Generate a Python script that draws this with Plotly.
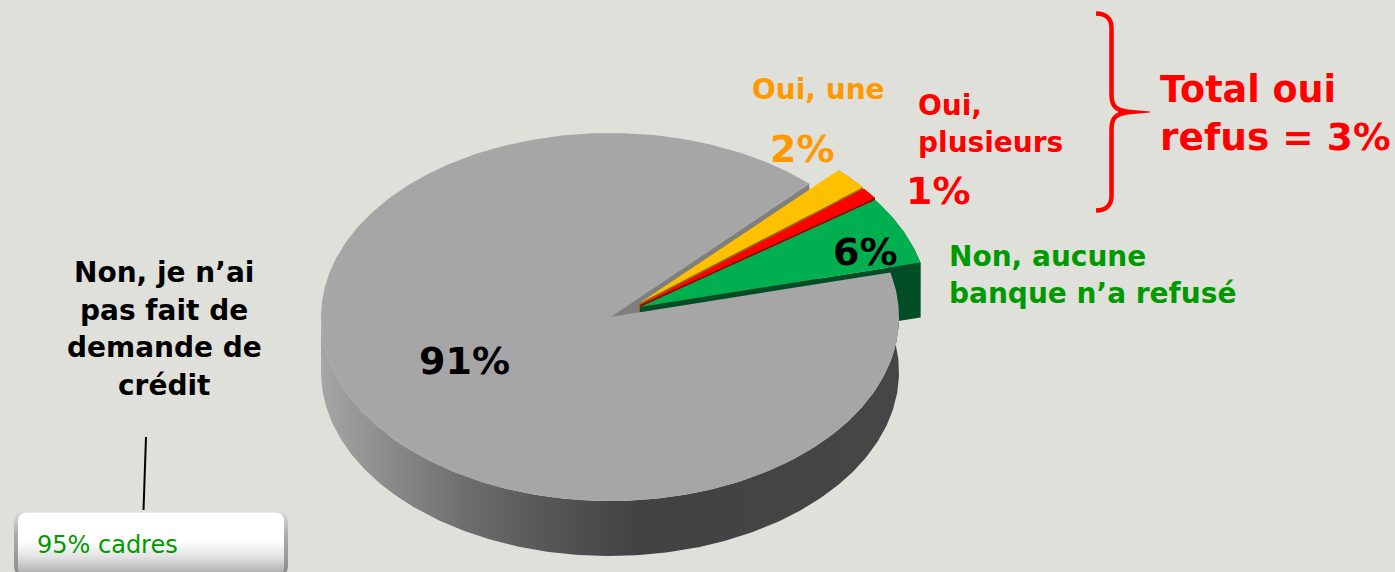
import numpy as np
import plotly.graph_objects as go

# ---- data ----
categories = ["Non, aucune banque n'a refusé", "Oui, plusieurs", "Oui, une", "Non, je n'ai pas fait de demande de crédit"]
values = [6, 1, 2, 91]
value_labels = ["6%", "1%", "2%", "91%"]
top_colors = ["#00B050", "#FF0000", "#FFC000", "#A6A6A6"]
side_colors = ["#004D26", "#990000", "#996600", "#7F7F7F"]

BG = "#DFE0DA"
W, H = 1395, 572
START_DEG = 14.0
RX, RY, DEPTH = 289.0, 184.0, 55.0
MAIN_CENTER = (610.0, 317.0)
SLICE_CENTERS = [(640.0, 307.0), (640.0, 305.0), (639.0, 303.5)]

side_scale = [[0, "#A6A6A6"], [0.12, "#8A8A8A"], [0.25, "#6E6E6E"], [0.38, "#585858"],
              [0.55, "#424242"], [1, "#464646"]]

fig = go.Figure()


def ell(c, a, dz=0.0):
    r = np.deg2rad(a)
    return c[0] + RX * np.cos(r), c[1] - RY * np.sin(r) + dz


def add_poly(xs, ys, color=None, gradient=None):
    kw = dict(fillgradient=gradient) if gradient else dict(fillcolor=color)
    fig.add_trace(go.Scatter(x=list(xs) + [xs[0]], y=list(ys) + [ys[0]], mode="lines", fill="toself",
                             line=dict(width=0), hoverinfo="skip", showlegend=False, **kw))


# slice angles come from the values
edges = START_DEG + np.cumsum([0] + values) * 3.6
spans = list(zip(edges[:-1], edges[1:]))
gray_a0, gray_a1 = spans[3]

# gray body side (visible along lower half)
a = np.linspace(180, gray_a1, 260)
x, y = ell(MAIN_CENTER, a)
x2, y2 = ell(MAIN_CENTER, a[::-1], DEPTH)
add_poly(np.r_[x, x2], np.r_[y, y2], gradient=dict(type="horizontal", colorscale=side_scale))

# gray cut face seen in the gap
ex, ey = ell(MAIN_CENTER, gray_a0)
add_poly([MAIN_CENTER[0], ex, ex, SLICE_CENTERS[0][0]],
         [MAIN_CENTER[1], ey, ey + DEPTH, SLICE_CENTERS[0][1] + DEPTH / 5], "#7F7F7F")

# exploded slices, back to front: walls then top face
for i in (2, 1, 0):
    c = SLICE_CENTERS[i]
    a0, a1 = spans[i]
    a = np.linspace(a0, a1, 40)
    x, y = ell(c, a)
    add_poly(np.r_[x, x[::-1]], np.r_[y, y[::-1] + DEPTH], side_colors[i])
    add_poly([c[0], x[0], x[0], c[0]], [c[1], y[0], y[0] + DEPTH, c[1] + DEPTH], side_colors[i])
    add_poly(np.r_[c[0], x], np.r_[c[1], y], top_colors[i])

# gray top face
a = np.linspace(gray_a0, gray_a1, 420)
x, y = ell(MAIN_CENTER, a)
add_poly(np.r_[MAIN_CENTER[0], x], np.r_[MAIN_CENTER[1], y], top_colors[3])


# note box: bevelled edge + vertical gradient
def round_rect(x0, x1, y0, y1, rad):
    t = np.linspace(0, np.pi / 2, 8)
    xs = np.r_[x0 + rad - rad * np.cos(t), x1 - rad + rad * np.sin(t), x1 - rad + rad * np.cos(t), x0 + rad - rad * np.sin(t)]
    ys = np.r_[y0 + rad - rad * np.sin(t), y0 + rad - rad * np.cos(t), y1 - rad + rad * np.sin(t), y1 - rad + rad * np.cos(t)]
    return xs, ys


bx, by = round_rect(14, 288, 512, 576, 9)
add_poly(bx, by, gradient=dict(type="vertical", colorscale=[[0, "#8C8C8C"], [0.6, "#A8A8A8"], [1, "#DADADA"]]))
bx, by = round_rect(18, 284, 512.5, 576, 8)
add_poly(bx, by, gradient=dict(type="vertical", colorscale=[[0, "#A4A4A4"], [0.3, "#E2E2E2"], [0.55, "#FFFFFF"], [1, "#FFFFFF"]]))

# leader line
fig.add_trace(go.Scatter(x=[146, 143.5], y=[437, 510], mode="lines", line=dict(color="black", width=2),
                         hoverinfo="skip", showlegend=False))

# brace
fig.add_shape(type="path", path="M 1096 13.5 C 1105 13.5 1111.5 18 1111.5 28 L 1111.5 94 C 1111.5 104 1114 109 1124 111 "
              "L 1126 112 L 1124 113 C 1114 115 1111.5 120 1111.5 130 L 1111.5 196 C 1111.5 206 1105 210.5 1096 210.5",
              line=dict(color="#FF0000", width=4.5), fillcolor="rgba(0,0,0,0)")
fig.add_shape(type="path", path="M 1118 108.5 L 1150 111.5 L 1150 112.5 L 1118 115.5 Z",
              line=dict(color="#FF0000", width=0), fillcolor="#FF0000")

FONT = "DejaVu Sans"


def label(x, y, text, size, color, bold=True, align="center"):
    fig.add_annotation(x=x, y=y, text=f"<b>{text}</b>" if bold else text, showarrow=False,
                       xanchor=align, yanchor="middle", align=align,
                       font=dict(family=FONT, size=size, color=color))


# percent labels
label(464, 361, value_labels[3], 38, "#000000")
label(865, 252, value_labels[0], 38, "#000000")
label(938, 191, value_labels[1], 38, "#FF0000")
label(802, 149, value_labels[2], 38, "#FF9900")

# category labels
for yy, t in zip([272, 310, 347, 385], ["Non, je n’ai", "pas fait de", "demande de", "crédit"]):
    label(164, yy, t, 28, "#000000")
for yy, t in zip([256, 293], ["Non, aucune", "banque n’a refusé"]):
    label(947, yy, t, 28, "#009900", align="left")
label(750, 89, "Oui, une", 28, "#FF9900", align="left")
for yy, t in zip([105, 142], ["Oui,", "plusieurs"]):
    label(916, yy, t, 28, "#FF0000", align="left")
label(1158, 89, "Total oui", 36.5, "#FF0000", align="left")
label(1158, 137, "refus = 3%", 37.5, "#FF0000", align="left")
label(35, 545, "95% cadres", 24, "#009900", bold=False, align="left")

fig.update_layout(width=W, height=H, margin=dict(l=0, r=0, t=0, b=0), paper_bgcolor=BG, plot_bgcolor=BG,
                  showlegend=False,
                  xaxis=dict(range=[0, W], visible=False, fixedrange=True),
                  yaxis=dict(range=[H, 0], visible=False, fixedrange=True))
fig.write_html("out.html", config=dict(displayModeBar=False),
               post_script="document.body.style.margin='0';document.body.style.overflow='hidden';document.body.style.background='#DFE0DA';")
